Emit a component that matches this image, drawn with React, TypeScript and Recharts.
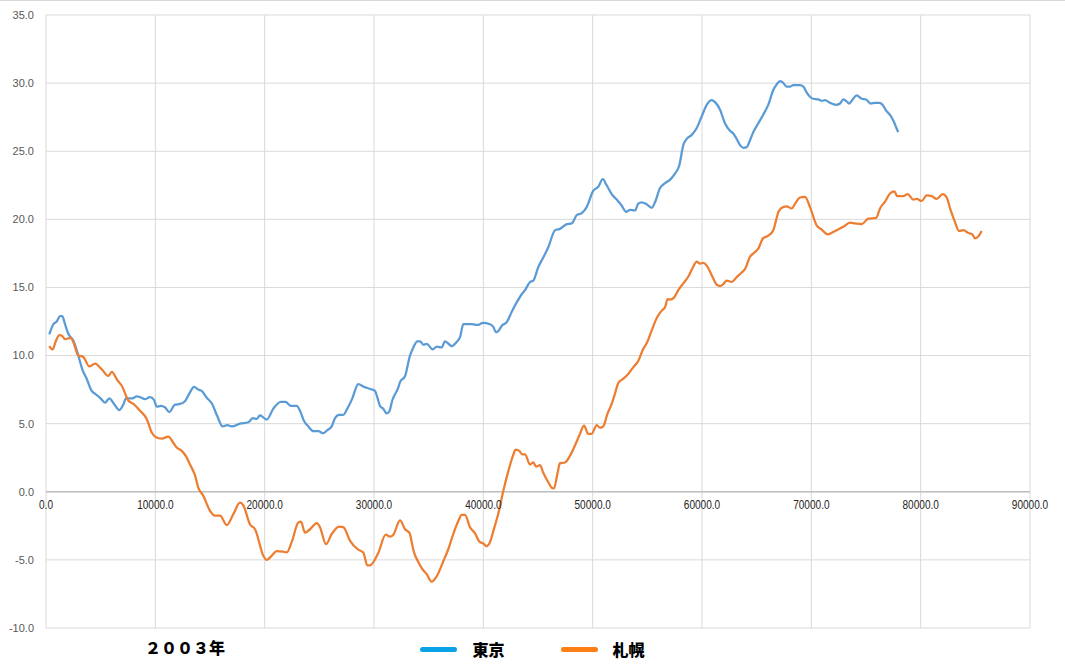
import React from 'react';
import { LineChart, Line, XAxis, YAxis, CartesianGrid, ReferenceLine, Legend } from 'recharts';

const tokyoX = [300, 670, 980, 1280, 1490, 1740, 2040, 2500, 2860, 3360,
  3720, 4180, 4480, 4940, 5400, 5790, 6220, 6700, 7070, 7320,
  7840, 8300, 8600, 9060, 9510, 9880, 10130, 10490, 10880, 11280,
  11800, 12260, 12710, 13170, 13540, 13930, 14240, 14700, 15160, 15640,
  16160, 16580, 16990, 17740, 18500, 18930, 19270, 19570, 20190, 20790,
  21490, 21910, 22410, 22930, 23230, 23600, 23990, 24450, 24910, 25360,
  25700, 26130, 26430, 26800, 27190, 27560, 27990, 28560, 29090, 29630,
  30090, 30300, 30550, 30850, 31140, 31400, 31670, 32220, 32380, 32840,
  33290, 33600, 33960, 34210, 34510, 34820, 35370, 35740, 36190, 36490,
  37110, 37560, 37870, 38170, 38940, 39540, 39940, 40610, 40910, 41160,
  41370, 41710, 42140, 42590, 43050, 43510, 43810, 44270, 44570, 45030,
  45480, 45940, 46560, 47010, 47630, 48080, 48540, 49000, 49450, 50060,
  50520, 50920, 51280, 51740, 52200, 52660, 53050, 53420, 53870, 54170,
  54490, 54940, 55400, 55700, 56160, 56620, 57070, 57530, 57920, 58290,
  58600, 59060, 59520, 59970, 60430, 60890, 61190, 61650, 62100, 62560,
  62860, 63170, 63480, 63780, 64090, 64390, 64690, 65150, 65610, 66060,
  66520, 66830, 67130, 67380, 67750, 68050, 68350, 68960, 69270, 69580,
  69880, 70180, 70640, 70950, 71250, 71710, 72260, 72620, 72920, 73170,
  73470, 73780, 74150, 74610, 75000, 75430, 75820, 76220, 76530, 76830,
  77260, 77560, 77810, 77950];

const tokyoT = [11.55, 12.3, 12.5, 12.9, 12.9, 12.3, 11.6, 11.1, 10.25, 8.9,
  8.3, 7.4, 7.2, 6.9, 6.55, 6.85, 6.45, 6.0, 6.4, 6.85,
  6.85, 7.0, 6.95, 6.8, 6.95, 6.75, 6.25, 6.3, 6.2, 5.85,
  6.4, 6.45, 6.65, 7.3, 7.7, 7.5, 7.4, 6.9, 6.5, 5.6,
  4.8, 4.9, 4.8, 5.0, 5.1, 5.4, 5.35, 5.6, 5.3, 6.1,
  6.6, 6.6, 6.3, 6.3, 5.95, 5.2, 4.8, 4.45, 4.45, 4.3,
  4.5, 4.8, 5.4, 5.65, 5.65, 6.1, 6.8, 7.9, 7.7, 7.55,
  7.4, 6.95, 6.3, 6.1, 5.75, 5.9, 6.7, 7.65, 8.05, 8.5,
  10.0, 10.6, 11.05, 11.05, 10.8, 10.85, 10.45, 10.65, 10.6, 11.05,
  10.7, 11.0, 11.35, 12.3, 12.3, 12.25, 12.4, 12.3, 12.1, 11.7,
  11.8, 12.2, 12.45, 13.2, 13.9, 14.5, 14.8, 15.4, 15.5, 16.5,
  17.2, 17.95, 19.2, 19.3, 19.65, 19.7, 20.3, 20.45, 20.9, 22.1,
  22.4, 22.95, 22.5, 21.85, 21.45, 21.0, 20.55, 20.7, 20.65, 21.15,
  21.25, 21.1, 20.85, 21.25, 22.3, 22.65, 22.9, 23.35, 23.95, 25.45,
  25.9, 26.2, 26.7, 27.55, 28.4, 28.75, 28.6, 28.05, 27.05, 26.5,
  26.3, 25.9, 25.45, 25.25, 25.3, 25.8, 26.4, 27.05, 27.7, 28.4,
  29.5, 29.9, 30.15, 30.05, 29.75, 29.75, 29.85, 29.85, 29.75, 29.3,
  29.0, 28.85, 28.8, 28.7, 28.75, 28.55, 28.4, 28.5, 28.8, 28.7,
  28.5, 28.8, 29.1, 28.85, 28.8, 28.5, 28.55, 28.55, 28.4, 28.0,
  27.6, 27.15, 26.65, 26.4];

const sapporoX = [300, 610, 870, 1220, 1460, 1740, 2260, 2500, 2950, 3410,
  3960, 4480, 5090, 5700, 6010, 6520, 6920, 7530, 7990, 8600,
  9210, 9670, 10060, 10580, 11190, 11640, 11950, 12410, 12810, 13170,
  13630, 13930, 14390, 15000, 15460, 15920, 16530, 17130, 17740, 18050,
  18660, 19120, 19880, 20190, 20640, 21100, 21700, 22020, 22470, 23080,
  23320, 23690, 24150, 24760, 25060, 25610, 26130, 26800, 27190, 27810,
  28560, 29020, 29390, 29630, 30390, 31070, 31460, 31770, 32380, 32840,
  33230, 33660, 34050, 34360, 34820, 35280, 35740, 36340, 36800, 37250,
  37710, 38020, 38320, 38780, 39240, 39630, 40000, 40310, 40550, 40980,
  41370, 41830, 42280, 42690, 42960, 43290, 43560, 43810, 44270, 44570,
  44820, 45180, 45480, 45940, 46250, 46460, 46770, 47010, 47470, 47930,
  48380, 48840, 49210, 49600, 49910, 50370, 50670, 50970, 51340, 51740,
  52040, 52350, 52800, 53260, 53720, 54170, 54630, 54940, 55400, 55860,
  56310, 56620, 56860, 57070, 57440, 57830, 58290, 58750, 59150, 59520,
  59820, 60120, 60430, 60890, 61350, 61650, 61950, 62260, 62720, 63170,
  63630, 63930, 64390, 64850, 65150, 65580, 66060, 66520, 67020, 67410,
  67750, 68200, 68510, 68960, 69420, 69880, 70490, 70950, 71500, 72170,
  72920, 73540, 73990, 74610, 75210, 75920, 76280, 76740, 77200, 77590,
  77860, 78410, 78810, 79330, 79640, 80090, 80550, 81010, 81470, 82020,
  82380, 82750, 83140, 83510, 83900, 84360, 84720, 84970, 85220, 85580];

const sapporoT = [10.7, 10.45, 11.0, 11.5, 11.45, 11.2, 11.3, 11.0, 10.0, 9.9,
  9.2, 9.4, 9.0, 8.5, 8.8, 8.2, 7.8, 6.7, 6.45, 5.95,
  5.35, 4.35, 4.0, 3.9, 4.05, 3.6, 3.25, 3.0, 2.6, 2.0,
  1.2, 0.3, -0.3, -1.4, -1.75, -1.75, -2.45, -1.65, -0.8, -1.0,
  -2.4, -2.75, -4.7, -5.0, -4.7, -4.35, -4.4, -4.45, -3.7, -2.25,
  -2.2, -3.0, -2.75, -2.3, -2.6, -3.85, -3.1, -2.55, -2.6, -3.6,
  -4.25, -4.45, -5.4, -5.4, -4.5, -3.15, -3.3, -3.15, -2.1, -2.75,
  -3.0, -4.45, -5.15, -5.6, -6.05, -6.6, -6.2, -5.1, -4.2, -3.1,
  -2.15, -1.7, -1.7, -2.6, -3.05, -3.65, -3.8, -4.0, -3.8, -2.7,
  -1.6, 0.07, 1.5, 2.6, 3.1, 3.0, 2.75, 2.75, 2.0, 2.15,
  1.85, 1.95, 1.4, 0.7, 0.3, 0.25, 1.3, 2.1, 2.15, 2.65,
  3.4, 4.25, 4.85, 4.25, 4.25, 4.9, 4.7, 4.8, 5.7, 6.45,
  7.2, 8.0, 8.3, 8.65, 9.15, 9.6, 10.5, 10.9, 11.85, 12.75,
  13.3, 13.55, 14.15, 14.1, 14.25, 14.8, 15.3, 15.8, 16.45, 16.9,
  16.75, 16.8, 16.6, 15.9, 15.2, 15.1, 15.25, 15.5, 15.4, 15.75,
  16.1, 16.35, 17.25, 17.6, 17.85, 18.6, 18.8, 19.2, 20.6, 20.9,
  20.95, 20.8, 21.15, 21.6, 21.65, 20.9, 19.55, 19.25, 18.9, 19.15,
  19.45, 19.75, 19.7, 19.65, 20.05, 20.1, 20.8, 21.3, 21.9, 22.05,
  21.7, 21.7, 21.85, 21.45, 21.5, 21.35, 21.75, 21.7, 21.5, 21.85,
  21.6, 20.65, 19.8, 19.15, 19.2, 19.0, 18.9, 18.6, 18.7, 19.15];

const xTicks = [0, 10000, 20000, 30000, 40000, 50000, 60000, 70000, 80000, 90000];
const yTicks = [-10, -5, 0, 5, 10, 15, 20, 25, 30, 35];
const seriesNames = ['東京', '札幌'];
const lineColors = ['#5b9bd5', '#ed7d31'];
const legendColors = ['#0aa2e6', '#fd7e14'];
const yearLabel = '２００３年';

const tokyoData = tokyoX.map((x, i) => ({ x, v: tokyoT[i] }));
const sapporoData = sapporoX.map((x, i) => ({ x, v: sapporoT[i] }));

const W = 1065;
const H = 670;
const PLOT_TOP = 15;
const PLOT_BOTTOM = 627;
const Y_MIN = -10;
const Y_MAX = 35;
const ZERO_Y = PLOT_TOP + ((PLOT_BOTTOM - PLOT_TOP) * (Y_MAX - 0)) / (Y_MAX - Y_MIN);

const XTick = (props: any) => {
  const { x, payload } = props;
  return (
    <text
      x={0}
      y={ZERO_Y + 18}
      transform={`translate(${x},0) scale(0.84,1)`}
      textAnchor="middle"
      fontSize={12}
      fill="#262626"
      fontFamily="'Liberation Sans', Arial, sans-serif"
    >
      {Number(payload.value).toFixed(1)}
    </text>
  );
};

const LegendContent = (props: any) => {
  const payload = [...(props.payload || [])].sort(
    (a: any, b: any) => seriesNames.indexOf(a.value) - seriesNames.indexOf(b.value)
  );
  return (
    <div style={{ display: 'flex', justifyContent: 'center', alignItems: 'center', height: 24 }}>
      {payload.map((p: any, i: number) => {
        const idx = seriesNames.indexOf(p.value);
        return (
          <div key={i} style={{ display: 'flex', alignItems: 'center', marginLeft: i ? 56 : 0 }}>
            <span
              style={{
                display: 'inline-block',
                width: 37,
                height: 5,
                borderRadius: 3,
                background: legendColors[idx],
              }}
            />
            <span
              style={{
                marginLeft: 15,
                fontSize: 16,
                fontWeight: 900,
                lineHeight: '20px',
                fontFamily: "'Noto Sans CJK JP', sans-serif",
                color: '#000',
              }}
            >
              {p.value}
            </span>
          </div>
        );
      })}
    </div>
  );
};

export default function App() {
  return (
    <div style={{ position: 'absolute', left: 0, top: 0, width: W, height: H, background: '#fff' }}>
      <div style={{ position: 'absolute', left: 0, top: 0, width: W, height: 1, background: '#d9d9d9' }} />
      <LineChart width={W} height={H} margin={{ top: 15, right: 35, left: 0, bottom: 17 }}>
        <CartesianGrid stroke="#d9d9d9" strokeWidth={1} />
        <XAxis
          type="number"
          dataKey="x"
          domain={[0, 90000]}
          ticks={xTicks}
          allowDataOverflow
          axisLine={false}
          tickLine={false}
          height={1}
          tick={<XTick />}
          interval={0}
        />
        <YAxis
          type="number"
          domain={[Y_MIN, Y_MAX]}
          ticks={yTicks}
          allowDataOverflow
          axisLine={false}
          tickLine={false}
          width={46}
          tickSize={0}
          tickMargin={12}
          interval={0}
          tickFormatter={(v: number) => v.toFixed(1)}
          tick={{ fill: '#595959', fontSize: 11, fontFamily: "'Liberation Sans', Arial, sans-serif" }}
        />
        <ReferenceLine y={0} stroke="#bfbfbf" strokeWidth={1.5} />
        <Line
          data={tokyoData}
          dataKey="v"
          name={seriesNames[0]}
          type="monotone"
          stroke={lineColors[0]}
          strokeWidth={2.25}
          dot={false}
          activeDot={false}
          isAnimationActive={false}
        />
        <Line
          data={sapporoData}
          dataKey="v"
          name={seriesNames[1]}
          type="monotone"
          stroke={lineColors[1]}
          strokeWidth={2.25}
          dot={false}
          activeDot={false}
          isAnimationActive={false}
        />
        <Legend
          verticalAlign="bottom"
          content={<LegendContent />}
          wrapperStyle={{ top: 637, bottom: 'auto', left: 0, width: W, height: 24 }}
        />
      </LineChart>
      <div
        style={{
          position: 'absolute',
          left: 145,
          top: 637,
          fontSize: 16,
          fontWeight: 900,
          lineHeight: '20px',
          fontFamily: "'Noto Sans CJK JP', sans-serif",
          color: '#000',
          whiteSpace: 'nowrap',
        }}
      >
        {yearLabel}
      </div>
    </div>
  );
}
